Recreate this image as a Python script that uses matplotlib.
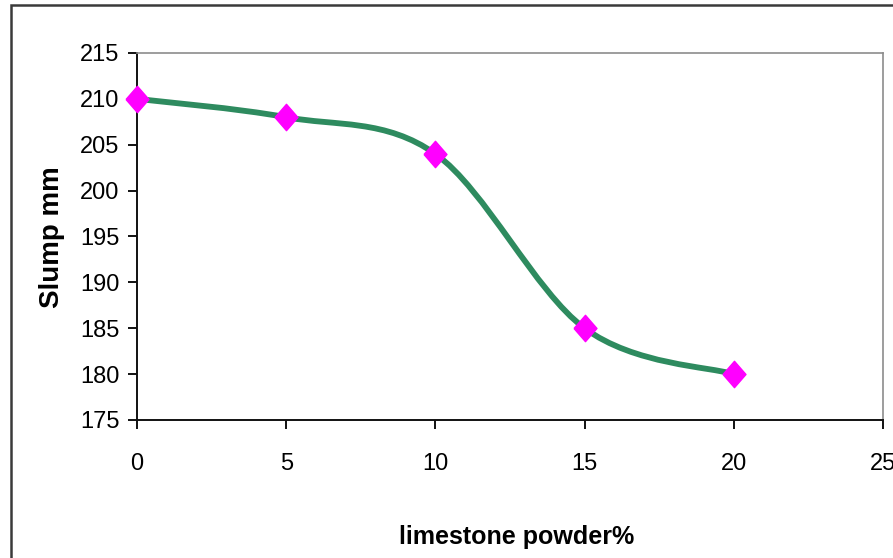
import matplotlib.pyplot as plt
from matplotlib.path import Path
from matplotlib.patches import PathPatch, Rectangle

plt.rcParams['font.family'] = ['Liberation Sans', 'DejaVu Sans']

limestone = [0, 5, 10, 15, 20]
slump = [210, 208, 204, 185, 180]

fig = plt.figure(figsize=(8.93, 5.58), dpi=100)
ax = fig.add_axes([137 / 893, 1 - 420 / 558, (883 - 137) / 893, (420 - 53) / 558])

# excel style smoothed line: cubic bezier through the points
pts = list(zip(limestone, slump))
ext = [pts[0]] + pts + [pts[-1]]
verts = [pts[0]]
codes = [Path.MOVETO]
for i in range(1, len(ext) - 2):
    p0, p1, p2, p3 = ext[i - 1], ext[i], ext[i + 1], ext[i + 2]
    c1 = (p1[0] + (p2[0] - p0[0]) / 6, p1[1] + (p2[1] - p0[1]) / 6)
    c2 = (p2[0] - (p3[0] - p1[0]) / 6, p2[1] - (p3[1] - p1[1]) / 6)
    verts += [c1, c2, p2]
    codes += [Path.CURVE4] * 3
ax.add_patch(PathPatch(Path(verts, codes), facecolor='none', edgecolor='#2e8b5f',
                       linewidth=4.2, capstyle='round', joinstyle='round', zorder=2))
diamond = [(-1, 0), (0, 1.15), (1, 0), (0, -1.15), (-1, 0)]
ax.plot(limestone, slump, linestyle='none', marker=diamond, markersize=19,
        markerfacecolor='#ff00ff', markeredgecolor='#ff00ff', zorder=3, clip_on=False)

ax.set_xlim(0, 25)
ax.set_ylim(175, 215)
ax.set_xticks(range(0, 26, 5))
ax.set_yticks(range(175, 216, 5))
ax.tick_params(direction='out', length=6.5, width=1.3, labelsize=17, colors='black')
ax.tick_params(axis='y', pad=6)
ax.tick_params(axis='x', pad=17)
for s in ['left', 'bottom']:
    ax.spines[s].set_linewidth(1.4)
    ax.spines[s].set_color('#111111')
for s in ['top', 'right']:
    ax.spines[s].set_linewidth(1.2)
    ax.spines[s].set_color('#8c8c8c')

fig.text(52 / 893, 1 - 237 / 558, 'Slump mm', rotation=90, ha='center', va='center',
         fontsize=20, fontweight='bold')
fig.text(517 / 893, 1 - 537 / 558, 'limestone powder%', ha='center', va='center',
         fontsize=18, fontweight='bold')

top = 1 - 5 / 558
fig.add_artist(Rectangle((11 / 893, -0.2), 1.2, top + 0.2, transform=fig.transFigure,
                         fill=False, edgecolor='#3a3a3a', linewidth=1.8))

plt.savefig('out.png', dpi=100)
